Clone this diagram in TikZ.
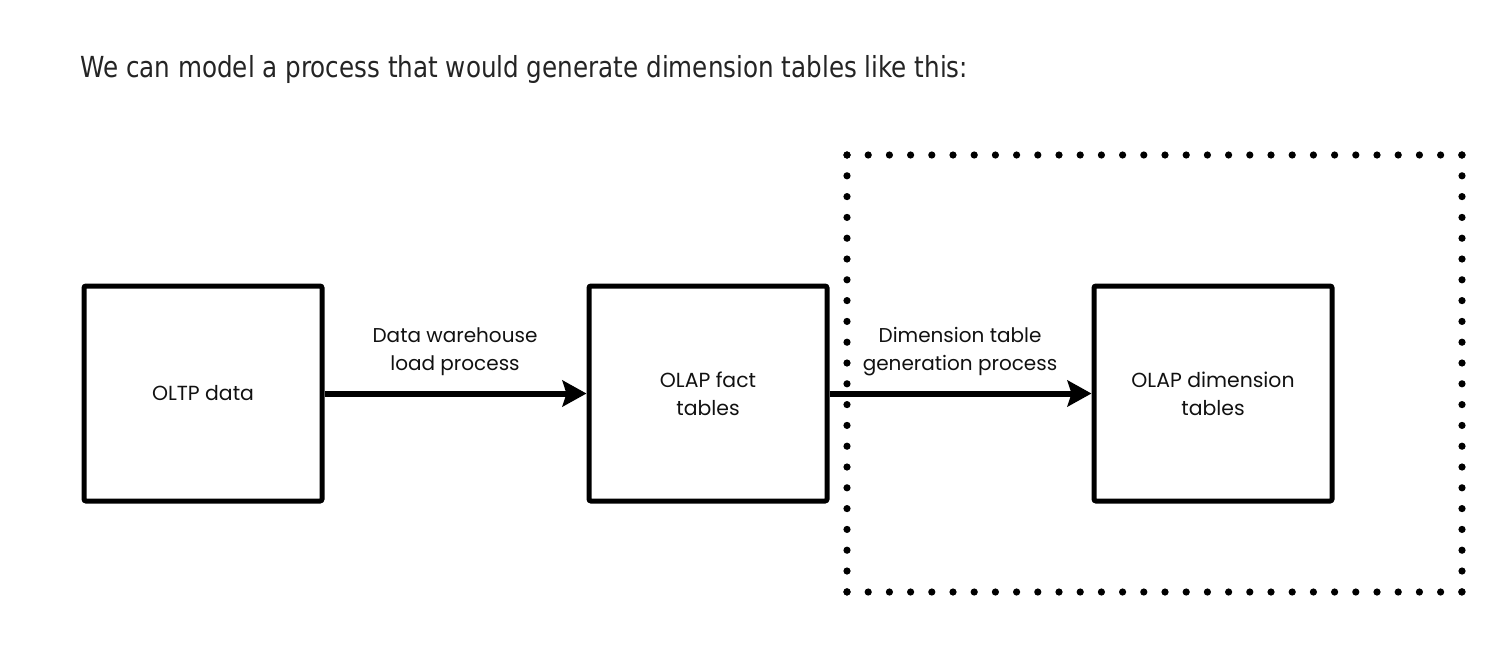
\documentclass[tikz,border=0pt]{standalone}
\usepackage{fontspec}
\setmainfont{DejaVu Sans}
\newfontfamily\headfont[FakeStretch=0.944]{DejaVu Sans Condensed}
\newfontfamily\diafont{Poppins}
\usetikzlibrary{arrows.meta}
\definecolor{headgray}{HTML}{242424}
\definecolor{inkblack}{HTML}{111111}
\tikzset{
  boxnode/.style={draw=black, line width=2.5pt, rounded corners=1pt, minimum width=119pt, minimum height=107.5pt, inner sep=0pt, align=center, font=\diafont\fontsize{10.2}{14}\selectfont, text=inkblack},
  flowarrow/.style={line width=3pt, -{Stealth[length=12pt,width=13pt,inset=2pt]}},
  lbl/.style={align=center, font=\diafont\fontsize{10}{14}\selectfont, text=inkblack, inner sep=0pt},
  dotline/.style={line width=3.6pt, line cap=round}
}
\begin{document}
\begin{tikzpicture}[x=0.5pt,y=-0.5pt]
\useasboundingbox (0,0) rectangle (1508,654);
\node[anchor=base west, inner sep=0pt, font=\headfont\fontsize{14.5}{17}\selectfont, text=headgray] (head) at (80,77) {We can model a process that would generate dimension tables like this:};
% dotted group
\coordinate (g1) at (847,155);
\coordinate (g2) at (1462,155);
\coordinate (g3) at (1462,592);
\coordinate (g4) at (847,592);
\draw[dotline, dash pattern=on 0pt off 10.6pt] (g1) -- (g2);
\draw[dotline, dash pattern=on 0pt off 10.6pt] (g4) -- (g3);
\draw[dotline, dash pattern=on 0pt off 10.4pt] (g1) -- (g4);
\draw[dotline, dash pattern=on 0pt off 10.4pt] (g2) -- (g3);
% boxes
\node[boxnode] (oltp) at (203,393.5) {OLTP data};
\node[boxnode] (fact) at (708,393.5) {OLAP fact\\tables};
\node[boxnode] (dim) at (1213,393.5) {OLAP dimension\\tables};
\draw[flowarrow] (oltp.east) -- (fact.west);
\draw[flowarrow] (fact.east) -- (dim.west);
\node[lbl] (l1) at (455,352) {Data warehouse\\load process};
\node[lbl] (l2) at (960,352) {Dimension table\\generation process};
\end{tikzpicture}
\end{document}
